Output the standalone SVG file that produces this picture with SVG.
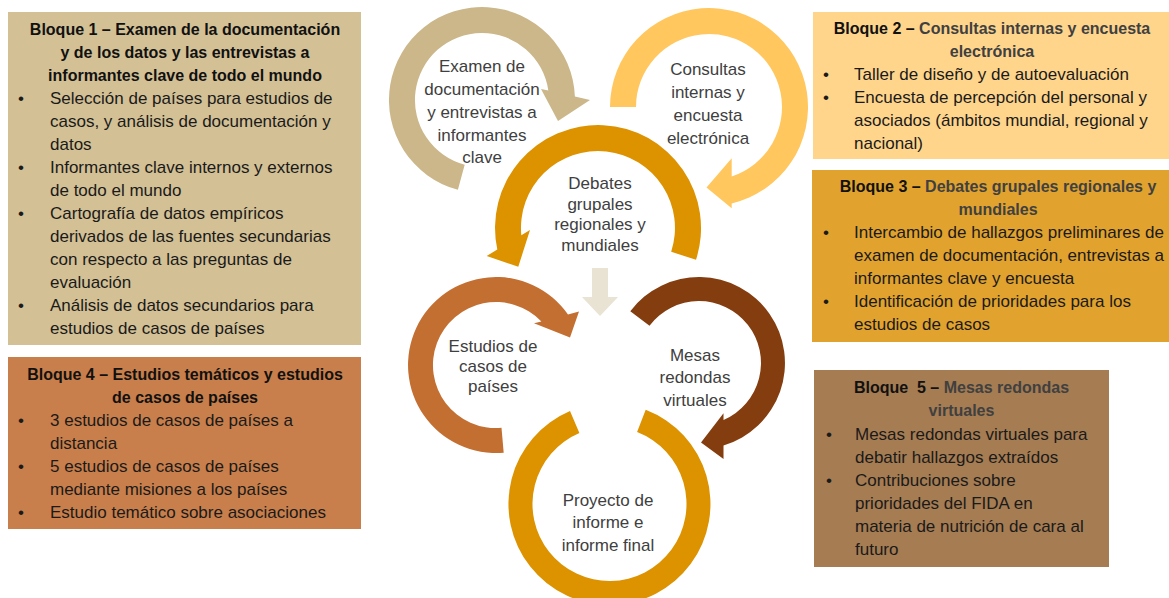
<svg xmlns="http://www.w3.org/2000/svg" width="1169" height="598" viewBox="0 0 1169 598">
<style>
text{font-family:"Liberation Sans",Arial,sans-serif}
.t{font-size:16px;font-weight:bold;fill:#111;text-anchor:middle}
.tg{fill:#404040}
.b{font-size:17px;fill:#1a1a1a}
.c{font-size:17px;fill:#404040;text-anchor:middle}
</style>
<rect width="1169" height="598" fill="#fff"/>

<g id="bloque1">
<rect x="8" y="12" width="353" height="333" fill="#D3C095"/>
<text class="t"><tspan x="185" y="35">Bloque 1 – Examen de la documentación</tspan><tspan x="185" y="58">y de los datos y las entrevistas a</tspan><tspan x="185" y="81">informantes clave de todo el mundo</tspan></text>
<text class="b"><tspan x="18" y="104">•</tspan><tspan x="18" y="173">•</tspan><tspan x="18" y="219">•</tspan><tspan x="18" y="311">•</tspan></text>
<text class="b"><tspan x="50" y="104">Selección de países para estudios de</tspan><tspan x="50" y="127">casos, y análisis de documentación y</tspan><tspan x="50" y="150">datos</tspan><tspan x="50" y="173">Informantes clave internos y externos</tspan><tspan x="50" y="196">de todo el mundo</tspan><tspan x="50" y="219">Cartografía de datos empíricos</tspan><tspan x="50" y="242">derivados de las fuentes secundarias</tspan><tspan x="50" y="265">con respecto a las preguntas de</tspan><tspan x="50" y="288">evaluación</tspan><tspan x="50" y="311">Análisis de datos secundarios para</tspan><tspan x="50" y="334">estudios de casos de países</tspan></text>
</g>

<g id="bloque4">
<rect x="8" y="357" width="353" height="172" fill="#C97F4B"/>
<text class="t"><tspan x="185" y="380">Bloque 4 – Estudios temáticos y estudios</tspan><tspan x="185" y="403">de casos de países</tspan></text>
<text class="b"><tspan x="18" y="426">•</tspan><tspan x="18" y="472">•</tspan><tspan x="18" y="518">•</tspan></text>
<text class="b"><tspan x="50" y="426">3 estudios de casos de países a</tspan><tspan x="50" y="449">distancia</tspan><tspan x="50" y="472">5 estudios de casos de países</tspan><tspan x="50" y="495">mediante misiones a los países</tspan><tspan x="50" y="518">Estudio temático sobre asociaciones</tspan></text>
</g>

<g id="bloque2">
<rect x="813" y="12" width="356" height="147" fill="#FFD58C"/>
<text class="t" x="992" y="34">Bloque 2 – <tspan class="tg">Consultas internas y encuesta</tspan></text>
<text class="t tg" x="992" y="57">electrónica</text>
<text class="b"><tspan x="823" y="80">•</tspan><tspan x="823" y="103">•</tspan></text>
<text class="b"><tspan x="854" y="80">Taller de diseño y de autoevaluación</tspan><tspan x="854" y="103">Encuesta de percepción del personal y</tspan><tspan x="854" y="126">asociados (ámbitos mundial, regional y</tspan><tspan x="854" y="149">nacional)</tspan></text>
</g>

<g id="bloque3">
<rect x="812" y="170" width="357" height="172" fill="#E2A32E"/>
<text class="t" x="998" y="192">Bloque 3 – <tspan class="tg">Debates grupales regionales y</tspan></text>
<text class="t tg" x="998" y="215">mundiales</text>
<text class="b"><tspan x="823" y="238">•</tspan><tspan x="823" y="307">•</tspan></text>
<text class="b"><tspan x="854" y="238">Intercambio de hallazgos preliminares de</tspan><tspan x="854" y="261">examen de documentación, entrevistas a</tspan><tspan x="854" y="284">informantes clave y encuesta</tspan><tspan x="854" y="307">Identificación de prioridades para los</tspan><tspan x="854" y="330">estudios de casos</tspan></text>
</g>

<g id="bloque5">
<rect x="814" y="370" width="295" height="197" fill="#A67C52"/>
<text class="t" x="961.5" y="393" xml:space="preserve">Bloque  5 – <tspan class="tg">Mesas redondas</tspan></text>
<text class="t tg" x="961.5" y="416">virtuales</text>
<text class="b"><tspan x="826" y="440">•</tspan><tspan x="826" y="486">•</tspan></text>
<text class="b"><tspan x="855" y="440">Mesas redondas virtuales para</tspan><tspan x="855" y="463">debatir hallazgos extraídos</tspan><tspan x="855" y="486">Contribuciones sobre</tspan><tspan x="855" y="509">prioridades del FIDA en</tspan><tspan x="855" y="532">materia de nutrición de cara al</tspan><tspan x="855" y="555">futuro</tspan></text>
</g>

<g id="etapa-examen">
<path d="M457.9,189.8 A93,93 0 1 1 574.9,96.6 L590,100 L558,121 L541,89 L548.3,90.6 A67,67 0 1 0 464.7,164.7 Z" fill="#CBB78A"/>
<text class="c"><tspan x="482" y="72">Examen de</tspan><tspan x="482" y="95">documentación</tspan><tspan x="482" y="118">y entrevistas a</tspan><tspan x="482" y="141">informantes</tspan><tspan x="482" y="163">clave</tspan></text>
</g>

<g id="etapa-consultas">
<path d="M610,107 A99,99 0 1 1 731.7,203.4 L731.7,208.3 L706.5,187.5 L731.7,158.3 L731.7,176.4 A73,73 0 1 0 636,107 Z" fill="#FFC75E"/>
<text class="c"><tspan x="708" y="75">Consultas</tspan><tspan x="708" y="98">internas y</tspan><tspan x="708" y="121">encuesta</tspan><tspan x="708" y="144">electrónica</tspan></text>
</g>

<g id="etapa-debates">
<path d="M696,259.8 A103,103 0 1 0 497.3,249.6 L486.7,256 L518.3,266.7 L530,230 L521.3,235.2 A77,77 0 1 1 671.2,251.8 Z" fill="#DD9200"/>
<text class="c"><tspan x="600" y="189">Debates</tspan><tspan x="600" y="210">grupales</tspan><tspan x="600" y="230">regionales y</tspan><tspan x="600" y="251">mundiales</tspan></text>
</g>

<g id="etapa-estudios">
<path d="M503.7,452.7 A88,88 0 1 1 568,314.4 L579,311.5 L570,337.5 L534,323.3 L541.4,321.4 A63,63 0 1 0 501.5,427.8 Z" fill="#C46F32"/>
<text class="c"><tspan x="493" y="352">Estudios de</tspan><tspan x="493" y="372">casos de</tspan><tspan x="493" y="392">países</tspan></text>
</g>

<g id="etapa-mesas">
<path d="M630.3,311.2 A86,86 0 1 1 723.5,445.4 L723.5,459 L701,442.5 L723.5,413.3 L723.5,420 A62,62 0 1 0 649.5,325.7 Z" fill="#843D0E"/>
<text class="c"><tspan x="695" y="361">Mesas</tspan><tspan x="695" y="383">redondas</tspan><tspan x="695" y="405.5">virtuales</tspan></text>
</g>

<g id="etapa-informe">
<path d="M645.7,409.7 A101,101 0 1 1 570,411 L579.4,433.1 A77,77 0 1 0 637.1,432.1 Z" fill="#DD9200"/>
<text class="c"><tspan x="608" y="505.5">Proyecto de</tspan><tspan x="608" y="528">informe e</tspan><tspan x="608" y="550.5">informe final</tspan></text>
</g>

<g id="conectores">
<polygon points="592,268 608,268 608,297 618,297 600,316 582,297 592,297" fill="#E9E3D3"/>
</g>
</svg>
